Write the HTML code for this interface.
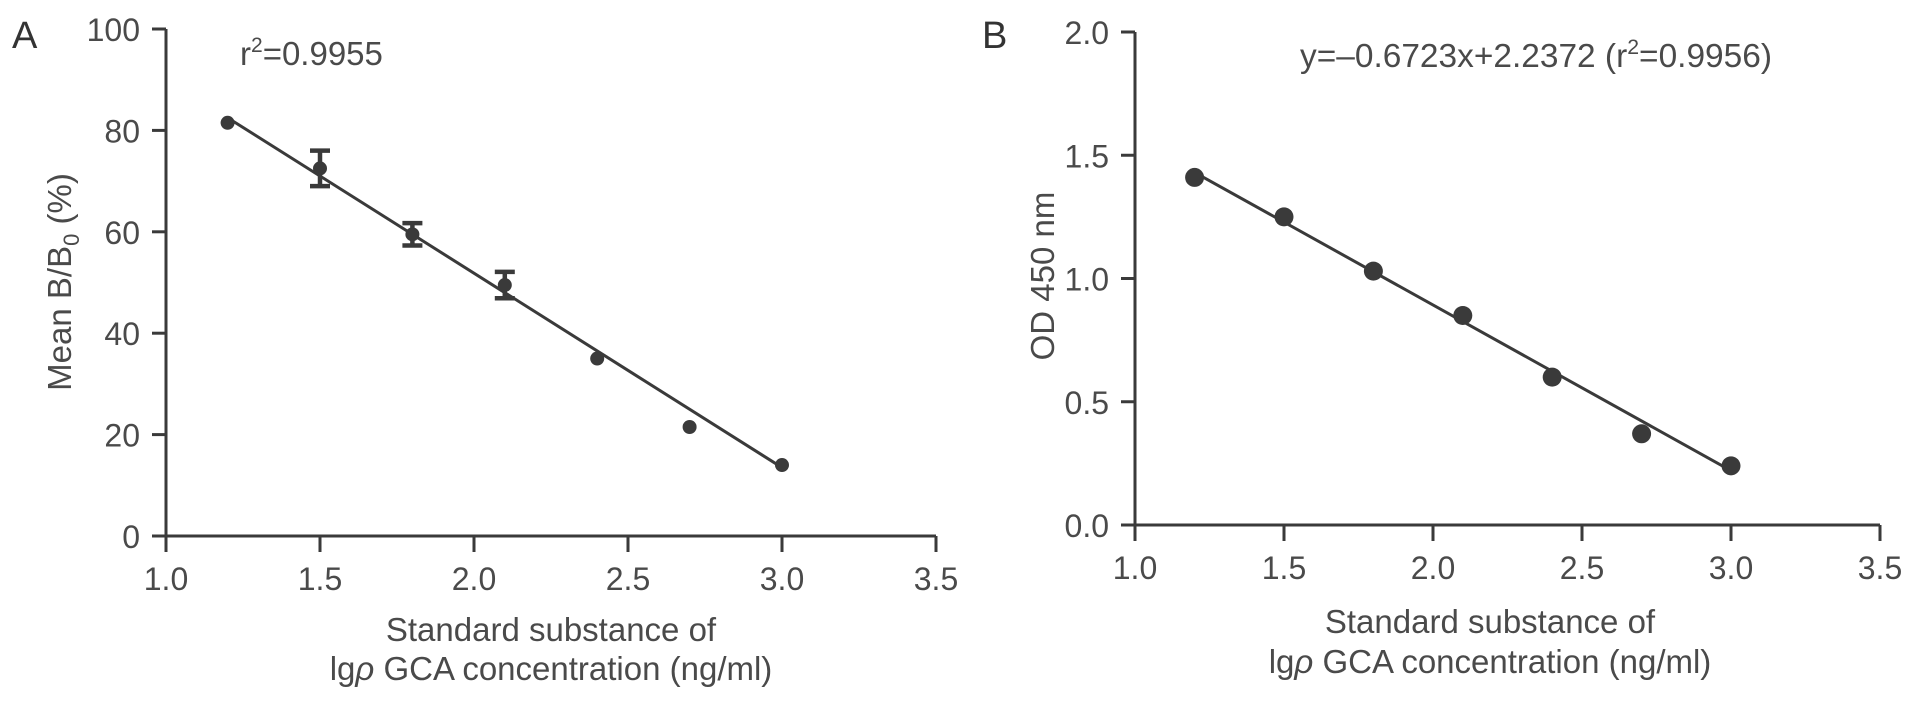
<!DOCTYPE html>
<html><head><meta charset="utf-8"><style>
html,body{margin:0;padding:0;background:#fff;}
svg{display:block;font-family:"Liberation Sans",sans-serif;}
</style></head><body>
<svg id="chart" width="1913" height="703" viewBox="0 0 1913 703" xmlns="http://www.w3.org/2000/svg" style="position:absolute;left:0;top:0"></svg>
<script>
const xTicks=[1.0,1.5,2.0,2.5,3.0,3.5];
const xTickLabels=["1.0","1.5","2.0","2.5","3.0","3.5"];
const aX=[1.2,1.5,1.8,2.1,2.4,2.7,3.0];
const aY=[81.5,72.5,59.5,49.5,35,21.5,14];
const aErr=[0,3.5,2.2,2.6,0,0,0];
const aFit=[[1.2,82.5],[3.0,13.5]];
const aYTicks=[0,20,40,60,80,100];
const aYTickLabels=["0","20","40","60","80","100"];
const bX=[1.2,1.5,1.8,2.1,2.4,2.7,3.0];
const bY=[1.41,1.25,1.03,0.85,0.60,0.37,0.24];
const bSlope=-0.6723, bIntercept=2.2372;
const bYTicks=[0,0.5,1.0,1.5,2.0];
const bYTickLabels=["0.0","0.5","1.0","1.5","2.0"];

const svg=document.getElementById('chart');
const NS="http://www.w3.org/2000/svg";
const C="#3a3a3a", T="#4a4a4a";
function mk(tag,attrs,parent){const e=document.createElementNS(NS,tag);for(const k in attrs)e.setAttribute(k,attrs[k]);(parent||svg).appendChild(e);return e;}

function panel(cfg){
  const g=mk('g',{});
  
  
  const sx=v=>cfg.x0+(v-1.0)/2.5*(cfg.x1-cfg.x0);
  const sy=v=>cfg.y0-(v-cfg.ymin)/(cfg.ymax-cfg.ymin)*(cfg.y0-cfg.y1);
  const ya=mk('line',{x1:cfg.x0,y1:cfg.y1,x2:cfg.x0,y2:cfg.y0,stroke:C,'stroke-width':3},g);
  
  const xa=mk('line',{x1:cfg.x0,y1:cfg.y0,x2:cfg.x1,y2:cfg.y0,stroke:C,'stroke-width':3},g);
  
  xTicks.forEach((v,i)=>{
    const X=sx(v);
    const t=mk('line',{x1:X,y1:cfg.y0,x2:X,y2:cfg.y0+16,stroke:C,'stroke-width':3},g);
    
    const l=mk('text',{x:X,y:cfg.y0+54,'text-anchor':'middle','font-size':32,fill:T},g);
    
    l.textContent=xTickLabels[i];
  });
  cfg.yTicks.forEach((v,i)=>{
    const Y=sy(v);
    const t=mk('line',{x1:cfg.x0-14,y1:Y,x2:cfg.x0,y2:Y,stroke:C,'stroke-width':3},g);
    
    const l=mk('text',{x:cfg.x0-26,y:Y+12,'text-anchor':'end','font-size':32,fill:T},g);
    
    l.textContent=cfg.yLabels[i];
  });
  const fl=mk('line',{x1:sx(cfg.fit[0][0]),y1:sy(cfg.fit[0][1]),x2:sx(cfg.fit[1][0]),y2:sy(cfg.fit[1][1]),stroke:C,'stroke-width':3},g);
  
  cfg.xs.forEach((v,i)=>{
    const X=sx(v),Y=sy(cfg.ys[i]);
    if(cfg.err&&cfg.err[i]>0){
      const e=cfg.err[i];
      const eb=mk('path',{d:`M${X},${sy(cfg.ys[i]+e)}V${sy(cfg.ys[i]-e)}M${X-10},${sy(cfg.ys[i]+e)}H${X+10}M${X-10},${sy(cfg.ys[i]-e)}H${X+10}`,stroke:C,'stroke-width':4.5,fill:'none'},g);
      
    }
    const p=mk('circle',{cx:X,cy:Y,r:cfg.r,fill:C},g);
    
  });
}
panel({name:'panel-a',x0:166,x1:936,y0:536,y1:29,ymin:0,ymax:100,yTicks:aYTicks,yLabels:aYTickLabels,xs:aX,ys:aY,err:aErr,fit:aFit,r:7});
panel({name:'panel-b',x0:1135,x1:1880,y0:525,y1:32,ymin:0,ymax:2,yTicks:bYTicks,yLabels:bYTickLabels,xs:bX,ys:bY,err:null,fit:[[1.2,bSlope*1.2+bIntercept],[3.0,bSlope*3.0+bIntercept]],r:9.5});
</script>
<svg style="position:absolute;left:0;top:0" width="1913" height="703" font-family="Liberation Sans, sans-serif">
  <text x="12" y="48" font-size="38" fill="#333">A</text>
  <text x="982" y="48" font-size="38" fill="#333">B</text>
  <text x="240" y="65" font-size="33" fill="#4a4a4a">r<tspan font-size="21" dy="-13">2</tspan><tspan dy="13">=0.9955</tspan></text>
  <text x="1300" y="67" font-size="33" fill="#4a4a4a" textLength="472" lengthAdjust="spacingAndGlyphs">y=–0.6723x+2.2372 (r<tspan font-size="21" dy="-13">2</tspan><tspan dy="13">=0.9956)</tspan></text>
  <text transform="translate(71,282) rotate(-90)" text-anchor="middle" font-size="33" fill="#4a4a4a">Mean B/B<tspan font-size="22" dy="8">0</tspan><tspan dy="-8"> (%)</tspan></text>
  <text transform="translate(1054,276) rotate(-90)" text-anchor="middle" font-size="33" fill="#4a4a4a">OD 450 nm</text>
  <text x="551" y="641" text-anchor="middle" font-size="33" fill="#4a4a4a">Standard substance of</text>
  <text x="551" y="680" text-anchor="middle" font-size="33" fill="#4a4a4a">lg<tspan font-style="italic">ρ</tspan> GCA concentration (ng/ml)</text>
  <text x="1490" y="633" text-anchor="middle" font-size="33" fill="#4a4a4a">Standard substance of</text>
  <text x="1490" y="673" text-anchor="middle" font-size="33" fill="#4a4a4a">lg<tspan font-style="italic">ρ</tspan> GCA concentration (ng/ml)</text>
</svg>
</body></html>
